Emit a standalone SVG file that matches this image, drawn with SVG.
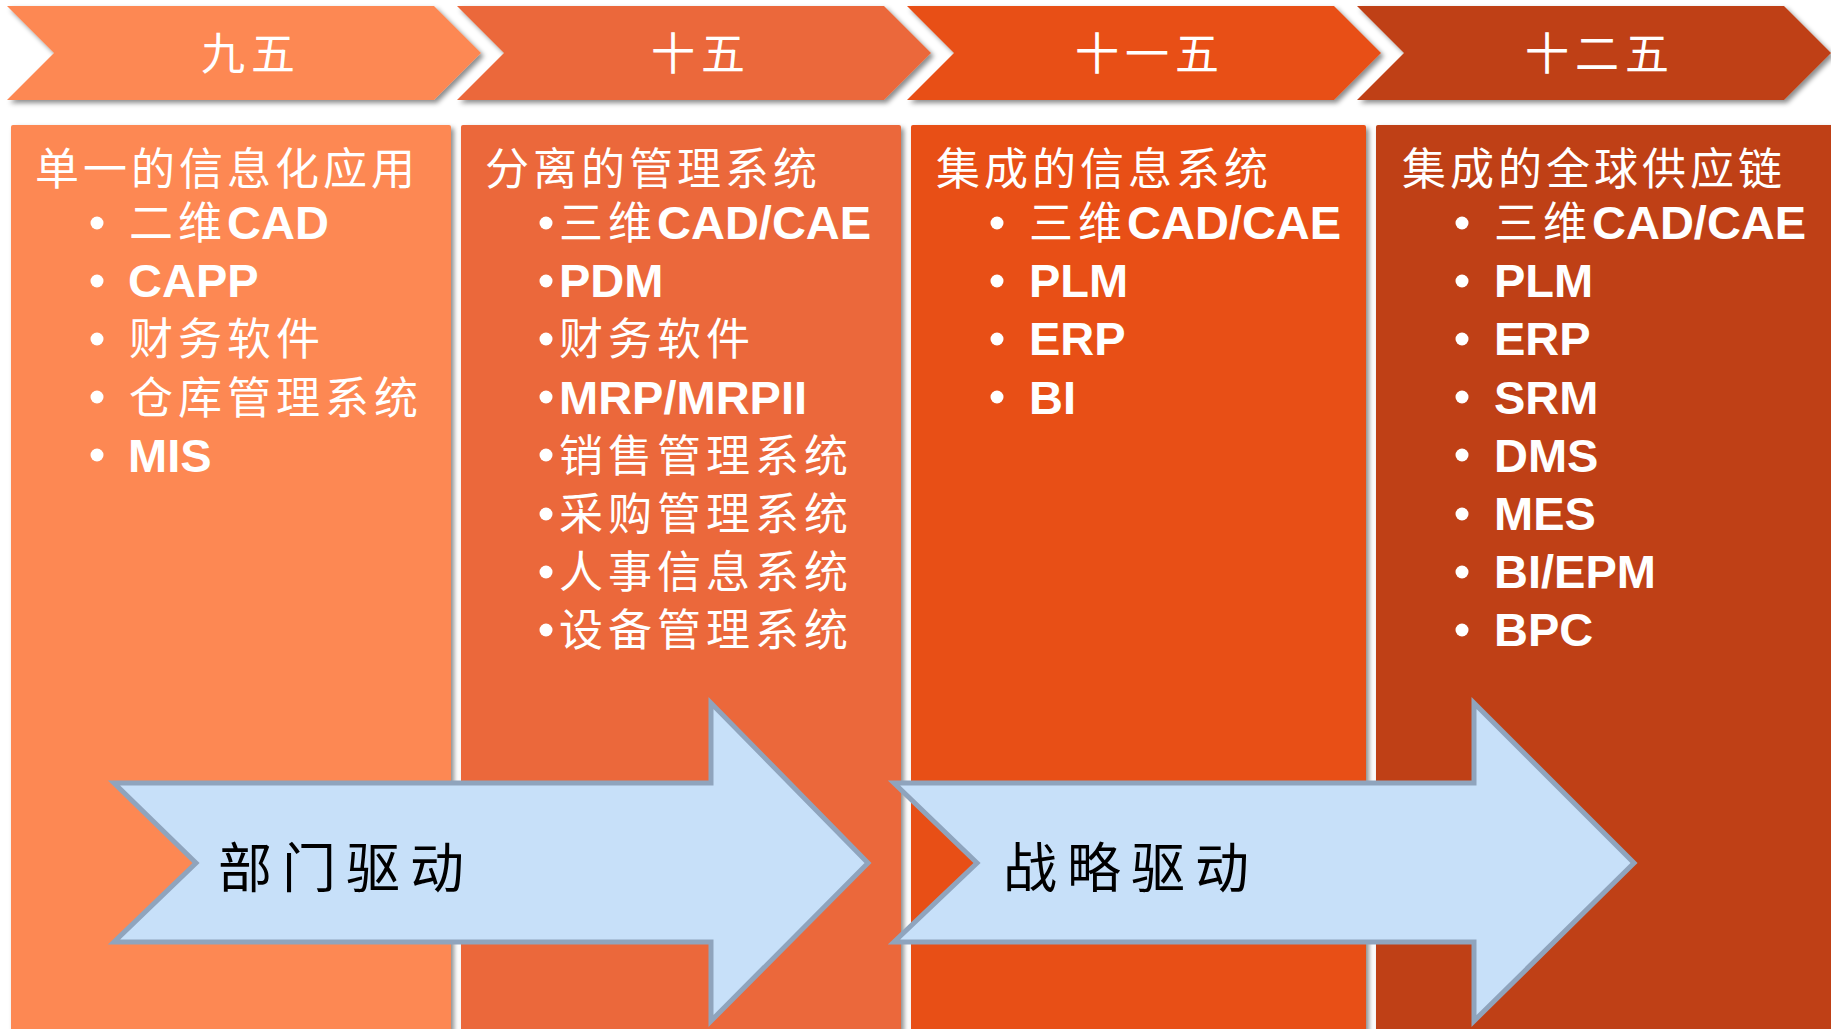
<svg xmlns="http://www.w3.org/2000/svg" width="1831" height="1029" viewBox="0 0 1831 1029">
<defs>
<filter id="sh" x="-5%" y="-5%" width="115%" height="120%">
<feDropShadow dx="3" dy="3" stdDeviation="2.5" flood-color="#000" flood-opacity="0.45"/>
</filter>
</defs>
<style>
.c1{fill:#FD8853}.c2{fill:#EB683B}.c3{fill:#E85018}.c4{fill:#BF4112}
.cn{font-family:"Noto Sans CJK SC",sans-serif;font-size:44px;letter-spacing:5px;fill:#fff}
.ch{font-family:"Noto Sans CJK SC",sans-serif;font-size:44px;letter-spacing:4px;fill:#fff}
.lt{font-family:"Liberation Sans",Arial,sans-serif;font-weight:bold;font-size:47px;letter-spacing:0;fill:#fff}
.hd{font-family:"Noto Sans CJK SC",sans-serif;font-size:44px;letter-spacing:6px;fill:#fff}
.ar{fill:#C7E0F9;stroke:#8FA4BD;stroke-width:5}
.al{font-family:"Noto Sans CJK SC",sans-serif;font-size:54px;letter-spacing:10px;fill:#000}
.bl{fill:#fff}
</style>
<rect width="1831" height="1029" fill="#fff"/>

<g id="chevron-1"><path class="c1" filter="url(#sh)" d="M7,6 L434,6 L481,53 L434,100 L7,100 L54,53 Z"/><text class="hd" x="201" y="70">九五</text></g>
<g id="chevron-2"><path class="c2" filter="url(#sh)" d="M457,6 L884,6 L931,53 L884,100 L457,100 L504,53 Z"/><text class="hd" x="651" y="70">十五</text></g>
<g id="chevron-3"><path class="c3" filter="url(#sh)" d="M907,6 L1334,6 L1381,53 L1334,100 L907,100 L954,53 Z"/><text class="hd" x="1075" y="70">十一五</text></g>
<g id="chevron-4"><path class="c4" filter="url(#sh)" d="M1357,6 L1784,6 L1831,53 L1784,100 L1357,100 L1404,53 Z"/><text class="hd" x="1525" y="70">十二五</text></g>

<g id="col-1">
<rect class="c1" filter="url(#sh)" x="11" y="125" width="440" height="910" rx="2"/>
<text class="ch" x="35" y="185">单一的信息化应用</text>
<circle class="bl" cx="97" cy="223" r="6.5"/><circle class="bl" cx="97" cy="281" r="6.5"/><circle class="bl" cx="97" cy="339" r="6.5"/><circle class="bl" cx="97" cy="397" r="6.5"/><circle class="bl" cx="97" cy="455" r="6.5"/>
<text x="129" y="239"><tspan class="cn">二维</tspan><tspan class="lt">CAD</tspan></text>
<text class="lt" x="128" y="297">CAPP</text>
<text class="cn" x="129" y="355">财务软件</text>
<text class="cn" x="129" y="414">仓库管理系统</text>
<text class="lt" x="128" y="472">MIS</text>
</g>

<g id="col-2">
<rect class="c2" filter="url(#sh)" x="461" y="125" width="440" height="910" rx="2"/>
<text class="ch" x="485" y="185">分离的管理系统</text>
<circle class="bl" cx="546" cy="223" r="6.5"/><circle class="bl" cx="546" cy="281" r="6.5"/><circle class="bl" cx="546" cy="339" r="6.5"/><circle class="bl" cx="546" cy="397" r="6.5"/><circle class="bl" cx="546" cy="455" r="6.5"/><circle class="bl" cx="546" cy="514" r="6.5"/><circle class="bl" cx="546" cy="572" r="6.5"/><circle class="bl" cx="546" cy="630" r="6.5"/>
<text x="559" y="239"><tspan class="cn">三维</tspan><tspan class="lt">CAD/CAE</tspan></text>
<text class="lt" x="559" y="297">PDM</text>
<text class="cn" x="559" y="355">财务软件</text>
<text class="lt" x="559" y="414">MRP/MRPII</text>
<text class="cn" x="559" y="472">销售管理系统</text>
<text class="cn" x="559" y="530">采购管理系统</text>
<text class="cn" x="559" y="588">人事信息系统</text>
<text class="cn" x="559" y="646">设备管理系统</text>
</g>

<g id="col-3">
<rect class="c3" filter="url(#sh)" x="911" y="125" width="455" height="910" rx="2"/>
<text class="ch" x="936" y="185">集成的信息系统</text>
<circle class="bl" cx="997" cy="223" r="6.5"/><circle class="bl" cx="997" cy="281" r="6.5"/><circle class="bl" cx="997" cy="339" r="6.5"/><circle class="bl" cx="997" cy="397" r="6.5"/>
<text x="1029" y="239"><tspan class="cn">三维</tspan><tspan class="lt">CAD/CAE</tspan></text>
<text class="lt" x="1029" y="297">PLM</text>
<text class="lt" x="1029" y="355">ERP</text>
<text class="lt" x="1029" y="414">BI</text>
</g>

<g id="col-4">
<rect class="c4" filter="url(#sh)" x="1376" y="125" width="460" height="910" rx="2"/>
<text class="ch" x="1402" y="185">集成的全球供应链</text>
<circle class="bl" cx="1462" cy="223" r="6.5"/><circle class="bl" cx="1462" cy="281" r="6.5"/><circle class="bl" cx="1462" cy="339" r="6.5"/><circle class="bl" cx="1462" cy="397" r="6.5"/><circle class="bl" cx="1462" cy="455" r="6.5"/><circle class="bl" cx="1462" cy="514" r="6.5"/><circle class="bl" cx="1462" cy="572" r="6.5"/><circle class="bl" cx="1462" cy="630" r="6.5"/>
<text x="1494" y="239"><tspan class="cn">三维</tspan><tspan class="lt">CAD/CAE</tspan></text>
<text class="lt" x="1494" y="297">PLM</text>
<text class="lt" x="1494" y="355">ERP</text>
<text class="lt" x="1494" y="414">SRM</text>
<text class="lt" x="1494" y="472">DMS</text>
<text class="lt" x="1494" y="530">MES</text>
<text class="lt" x="1494" y="588">BI/EPM</text>
<text class="lt" x="1494" y="646">BPC</text>
</g>

<g id="arrow-1"><path class="ar" d="M114,783 L711,783 L711,703 L868,863 L711,1021 L711,942 L114,942 L196,863 Z"/><text class="al" x="218" y="888">部门驱动</text></g>
<g id="arrow-2"><path class="ar" d="M894,783 L1474,783 L1474,703 L1634,863 L1474,1021 L1474,942 L894,942 L977,863 Z"/><text class="al" x="1003" y="888">战略驱动</text></g>
</svg>
